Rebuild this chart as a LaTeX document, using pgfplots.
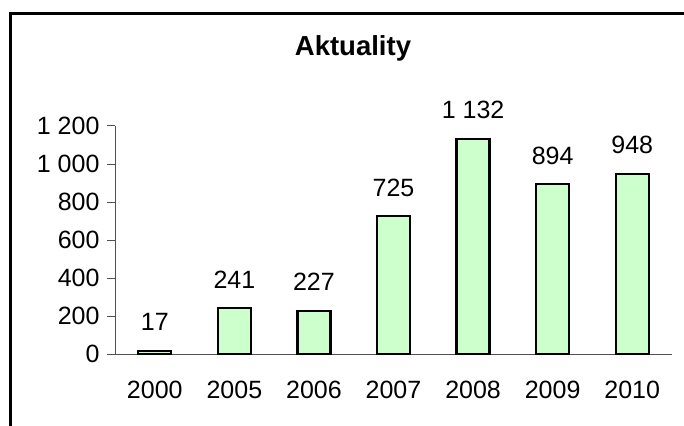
\documentclass[border=0pt]{standalone}
\usepackage{pgfplots}
\pgfplotsset{compat=1.18}
\usepackage{fontspec}
\setmainfont{Liberation Sans}
\definecolor{barfill}{RGB}{204,255,204}
\definecolor{axgray}{RGB}{80,80,80}
\begin{document}
\begin{tikzpicture}[x=1bp,y=1bp]
\useasboundingbox (0,0) rectangle (684,425);
\begin{scope}
\clip (0,0) rectangle (684,425);
\draw[line width=2.5bp] (10.5,-20) -- (10.5,411.5) -- (720,411.5);
\end{scope}
\node[anchor=base,font=\fontsize{27.5bp}{32bp}\selectfont\bfseries] at (353,370) {Aktuality};
\begin{axis}[
  at={(115bp,71bp)}, anchor=south west,
  scale only axis, width=557bp, height=228bp,
  xmin=-0.5, xmax=6.5, ymin=0, ymax=1200,
  axis x line=bottom, axis y line=left,
  axis line style={-, axgray, line width=1bp},
  xtick={0,1,2,3,4,5,6},
  xticklabels={2000,2005,2006,2007,2008,2009,2010},
  x tick style={draw=none},
  extra x ticks={-0.5,0.5,1.5,2.5,3.5,4.5,5.5,6.5},
  extra x tick labels={},
  extra x tick style={tick style={draw=axgray, line width=1bp}, major tick length=8bp, tick align=outside},
  ytick={0,200,400,600,800,1000,1200},
  y tick style={draw=axgray, line width=1bp},
  major tick length=8bp, tick align=outside,
  /pgf/number format/assume math mode=true,
  /pgf/number format/1000 sep={\ },
  ticklabel style={font=\fontsize{25bp}{29bp}\selectfont},
  yticklabel style={xshift=-4bp},
  xticklabel style={yshift=-16bp},
  ybar, bar width=33bp,
  nodes near coords,
  nodes near coords style={anchor=base, yshift=20bp, font=\fontsize{25bp}{29bp}\selectfont, /pgf/number format/1000 sep={\ }, /pgf/number format/assume math mode=true},
  clip=false,
]
\addplot[fill=barfill, draw=black, line width=2.2bp] coordinates {
(0,17) (1,241) (2,227) (3,725) (4,1132) (5,894) (6,948)};
\end{axis}
\end{tikzpicture}
\end{document}
